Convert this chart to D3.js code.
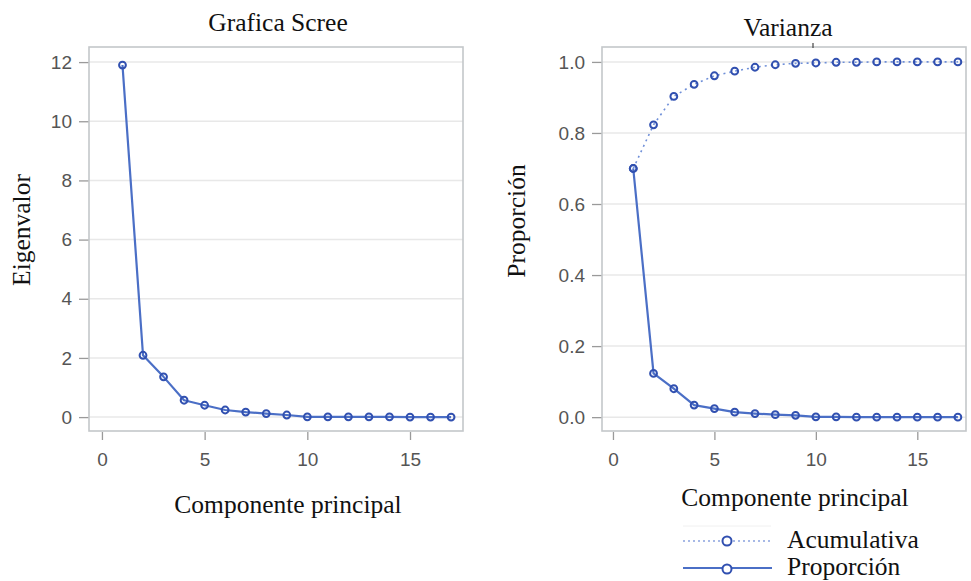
<!DOCTYPE html>
<html>
<head>
<meta charset="utf-8">
<script src="https://cdn.jsdelivr.net/npm/d3@7"></script>
<style>
  html, body { margin: 0; padding: 0; background: #fff; }
  svg { display: block; }
  .serif { font-family: "Liberation Serif", "Times New Roman", serif; fill: #111; }
  .tick text { font-family: "Liberation Sans", Arial, sans-serif; font-size: 19px; fill: #555; }
  .tick line { stroke: #9a9a9a; stroke-width: 1.3; }
</style>
</head>
<body>
<svg id="chart" width="971" height="581"></svg>
<script>
// Principal components 1..17
const components = [1, 2, 3, 4, 5, 6, 7, 8, 9, 10, 11, 12, 13, 14, 15, 16, 17];

// Eigenvalue of each component
const eigenvalues = [11.90, 2.09, 1.36, 0.57, 0.40, 0.24, 0.17, 0.12, 0.07, 0.01, 0.01, 0.01, 0.01, 0.01, 0.00, 0.00, 0.00];

// Share of variance explained by each component
const proportion = [0.700, 0.123, 0.080, 0.034, 0.024, 0.014, 0.010, 0.007, 0.005, 0.001, 0.001, 0.000, 0.000, 0.000, 0.000, 0.000, 0.000];

// Running total of explained variance
const cumulative = [0.700, 0.823, 0.903, 0.937, 0.961, 0.974, 0.985, 0.992, 0.996, 0.997, 0.999, 0.999, 1.000, 1.000, 1.000, 1.000, 1.000];

// Axis ticks
const xTicks = [0, 5, 10, 15];
const eigenTicks = [0, 2, 4, 6, 8, 10, 12];
const propTicks = [0, 0.2, 0.4, 0.6, 0.8, 1.0];

const lineColor = "#4b6fc6";
const markColor = "#3150b0";
const frameColor = "#c4c7ca";
const gridColor = "#e8e8e8";
const serifSize = 25.5;

const svg = d3.select("#chart");
svg.append("rect").attr("width", 971).attr("height", 581).attr("fill", "#fff");

function panel(opts) {
  const { left, right, top, bottom, xDomain, yDomain, yTicks, yFormat } = opts;
  const x = d3.scaleLinear().domain(xDomain).range([left, right]);
  const y = d3.scaleLinear().domain(yDomain).range([bottom, top]);
  const g = svg.append("g");

  // horizontal grid lines
  g.selectAll(".grid").data(yTicks).join("line")
    .attr("x1", left).attr("x2", right)
    .attr("y1", d => y(d)).attr("y2", d => y(d))
    .attr("stroke", gridColor).attr("stroke-width", 1.5);

  // y axis
  const ya = g.append("g").attr("transform", `translate(${left},0)`)
    .call(d3.axisLeft(y).tickValues(yTicks).tickFormat(yFormat).tickSize(10).tickPadding(7));
  ya.select(".domain").remove();

  // x axis (ticks hang below the frame)
  const xa = g.append("g").attr("transform", `translate(0,${bottom + 1})`)
    .call(d3.axisBottom(x).tickValues(xTicks).tickFormat(d3.format("d")).tickSize(8).tickPadding(13));
  xa.select(".domain").remove();

  // frame
  g.append("rect")
    .attr("x", left).attr("y", top)
    .attr("width", right - left).attr("height", bottom - top)
    .attr("fill", "none").attr("stroke", frameColor).attr("stroke-width", 1.6);

  return { g, x, y };
}

function series(p, values, dashed) {
  const pts = components.map((c, i) => [c, values[i]]);
  const line = d3.line().x(d => p.x(d[0])).y(d => p.y(d[1]));
  p.g.append("path").datum(pts)
    .attr("d", line)
    .attr("fill", "none")
    .attr("stroke", dashed ? "#6f8fd8" : lineColor)
    .attr("stroke-width", dashed ? 1.6 : 2.2)
    .attr("stroke-dasharray", dashed ? "2,4" : null)
    .attr("stroke-linejoin", "round");
  p.g.selectAll(null).data(pts).join("circle")
    .attr("cx", d => p.x(d[0])).attr("cy", d => p.y(d[1]))
    .attr("r", 3.4)
    .attr("fill", "none")
    .attr("stroke", markColor).attr("stroke-width", 2);
}

// ---- Scree plot ----
const scree = panel({
  left: 89, right: 463, top: 47, bottom: 431,
  xDomain: [-0.63, 17.58], yDomain: [-0.47, 12.51],
  yTicks: eigenTicks, yFormat: d3.format("d")
});
series(scree, eigenvalues, false);

svg.append("text").attr("class", "serif")
  .attr("x", 278).attr("y", 31).attr("text-anchor", "middle")
  .attr("font-size", serifSize).text("Grafica Scree");
svg.append("text").attr("class", "serif")
  .attr("x", 288).attr("y", 513).attr("text-anchor", "middle")
  .attr("font-size", serifSize).text("Componente principal");
svg.append("text").attr("class", "serif")
  .attr("transform", "translate(30,230) rotate(-90)").attr("text-anchor", "middle")
  .attr("font-size", serifSize).text("Eigenvalor");

// ---- Variance plot ----
const variance = panel({
  left: 602, right: 966, top: 47, bottom: 431,
  xDomain: [-0.54, 17.4], yDomain: [-0.039, 1.042],
  yTicks: propTicks, yFormat: d3.format(".1f")
});
series(variance, cumulative, true);
series(variance, proportion, false);

svg.append("line").attr("x1", 813).attr("x2", 813).attr("y1", 43).attr("y2", 48)
  .attr("stroke", "#444").attr("stroke-width", 1.2);

svg.append("text").attr("class", "serif")
  .attr("x", 788).attr("y", 36).attr("text-anchor", "middle")
  .attr("font-size", serifSize).text("Varianza");
svg.append("text").attr("class", "serif")
  .attr("x", 795).attr("y", 506).attr("text-anchor", "middle")
  .attr("font-size", serifSize).text("Componente principal");
svg.append("text").attr("class", "serif")
  .attr("transform", "translate(525,221) rotate(-90)").attr("text-anchor", "middle")
  .attr("font-size", serifSize).text("Proporción");

// ---- Legend ----
const legend = svg.append("g");
legend.append("line").attr("x1", 683).attr("x2", 771).attr("y1", 526).attr("y2", 526)
  .attr("stroke", "#f0f0f0").attr("stroke-width", 1);
const legendItems = [
  { label: "Acumulativa", y: 541, dashed: true },
  { label: "Proporción", y: 568, dashed: false }
];
legendItems.forEach(it => {
  legend.append("line").attr("x1", 683).attr("x2", 772).attr("y1", it.y).attr("y2", it.y)
    .attr("stroke", it.dashed ? "#8aa3de" : lineColor)
    .attr("stroke-width", it.dashed ? 1.6 : 2.2)
    .attr("stroke-dasharray", it.dashed ? "2,3" : null);
  legend.append("circle").attr("cx", 727).attr("cy", it.y + (it.dashed ? 0 : 1)).attr("r", 4.5)
    .attr("fill", "#fff").attr("stroke", markColor).attr("stroke-width", 2);
  legend.append("text").attr("class", "serif")
    .attr("x", 787).attr("y", it.y + 7).attr("font-size", serifSize).text(it.label);
});
</script>
</body>
</html>
